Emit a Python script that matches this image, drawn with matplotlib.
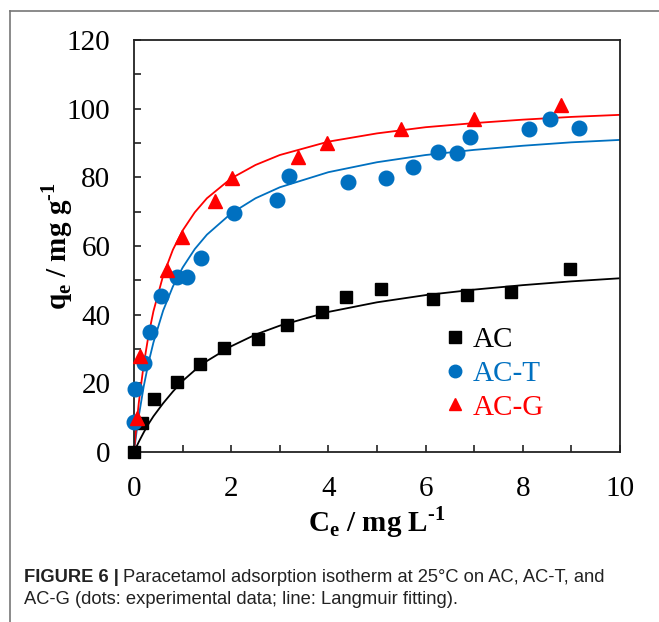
import matplotlib
matplotlib.use('Agg')
import matplotlib.pyplot as plt
from matplotlib.lines import Line2D
from matplotlib.ticker import MultipleLocator

# experimental points
ac_x = [0.0, 0.16, 0.42, 0.88, 1.36, 1.86, 2.56, 3.15, 3.87, 4.36, 5.08, 6.16, 6.86, 7.76, 8.97]
ac_y = [0.0, 8.4, 15.5, 20.4, 25.6, 30.4, 32.8, 37.0, 40.9, 45.2, 47.4, 44.5, 45.7, 46.7, 53.3]

act_x = [0.0, 0.02, 0.21, 0.33, 0.56, 0.89, 1.10, 1.38, 2.06, 2.94, 3.19, 4.40, 5.19,
         5.75, 6.26, 6.64, 6.91, 8.13, 8.56, 9.15]
act_y = [8.8, 18.3, 26.0, 34.9, 45.4, 51.1, 51.1, 56.6, 69.7, 73.4, 80.5, 78.6, 79.7,
         82.9, 87.3, 87.0, 91.7, 94.0, 96.9, 94.5]

acg_x = [0.06, 0.12, 0.67, 0.98, 1.67, 2.01, 3.37, 3.98, 5.49, 7.00, 8.79]
acg_y = [10.0, 28.0, 53.0, 62.7, 73.1, 79.7, 86.0, 89.9, 94.1, 96.9, 101.1]

# Langmuir fitting curves
fit_x = [0, 0.05, 0.1, 0.2, 0.3, 0.4, 0.6, 0.8, 1.0, 1.25, 1.5, 2.0, 2.5, 3.0,
         4.0, 5.0, 6.0, 7.0, 8.0, 9.0, 10.0]
fit_ac = [0, 1.5, 3.0, 5.7, 8.2, 10.4, 14.2, 17.6, 20.7, 23.8, 26.5, 30.8, 34.2, 36.8,
          40.8, 43.6, 45.7, 47.3, 48.6, 49.7, 50.6]
fit_act = [0, 5.6, 10.6, 19.1, 26.1, 31.9, 41.2, 48.2, 53.7, 59.1, 63.3, 69.5, 73.9, 77.1,
           81.5, 84.4, 86.5, 88.0, 89.2, 90.2, 90.9]
fit_acg = [0, 7.8, 14.5, 25.5, 34.1, 41.0, 51.4, 58.9, 64.5, 69.8, 73.9, 79.7, 83.6, 86.5,
           90.4, 92.8, 94.6, 95.8, 96.8, 97.6, 98.2]

labels = ['AC', 'AC-T', 'AC-G']
colors = ['black', '#0070C0', '#FF0000']
markers = ['s', 'o', '^']

serif = ['Liberation Serif', 'DejaVu Serif']
plt.rcParams['font.family'] = serif

fig = plt.figure(figsize=(6.59, 6.22), dpi=100)
ax = fig.add_axes([134 / 659, 170 / 622, 486 / 659, 412 / 622])

#fit lines
for fy, c in zip([fit_ac, fit_act, fit_acg], colors):
    ax.plot(fit_x, fy, color=c, lw=1.3, zorder=2)

#points
ax.plot(ac_x, ac_y, ls='none', marker='s', ms=9, color=colors[0], zorder=3, clip_on=False)
ax.plot(act_x, act_y, ls='none', marker='o', ms=10.5, color=colors[1], zorder=3, clip_on=False)
ax.plot(acg_x, acg_y, ls='none', marker='^', ms=10, color=colors[2], zorder=4, clip_on=False)

ax.set_xlim(0, 10)
ax.set_ylim(0, 120)
ax.xaxis.set_major_locator(MultipleLocator(2))
ax.xaxis.set_minor_locator(MultipleLocator(1))
ax.yaxis.set_major_locator(MultipleLocator(20))
ax.yaxis.set_minor_locator(MultipleLocator(10))
ax.tick_params(which='both', direction='in', length=5, width=1.2, color='#222222',
               top=False, right=False)
ax.tick_params(which='major', labelsize=21, pad=17)
for s in ax.spines.values():
    s.set_linewidth(1.3)
    s.set_color('#222222')

# superscript uses a plain hyphen like the original, not a minus sign
ax.set_xlabel('C$_\\mathregular{e}$ / mg L$^\\mathregular{\u20101}$', fontsize=21,
              fontweight='bold', labelpad=2)
ax.set_ylabel('q$_\\mathregular{e}$ / mg g$^\\mathregular{\u20101}$', fontsize=21,
              fontweight='bold', labelpad=-6)

handles = [Line2D([], [], ls='none', marker=m, color=c, ms=9) for m, c in zip(markers, colors)]
leg = ax.legend(handles, labels, loc='center left', bbox_to_anchor=(0.643, 0.19),
                frameon=False, fontsize=21, handlelength=0.6, handletextpad=0.3,
                labelspacing=0.25, borderpad=0, borderaxespad=0)
for t, c in zip(leg.get_texts(), colors):
    t.set_color(c)

# figure frame
fig.add_artist(Line2D([10 / 659, 1], [1 - 11 / 622] * 2, color='#777777', lw=1.2))
fig.add_artist(Line2D([10 / 659] * 2, [0, 1 - 11 / 622], color='#777777', lw=1.2))

# caption
cap_font = ['Liberation Sans', 'DejaVu Sans']
t1 = fig.text(24 / 659, 1 - 577 / 622, 'FIGURE 6 |', fontsize=13.2, fontweight='bold',
              family=cap_font, va='center', color='#222222')
fig.canvas.draw()
bb = t1.get_window_extent()
fig.text(bb.x1 / 659 + 4 / 659, 1 - 577 / 622,
         'Paracetamol adsorption isotherm at 25\u00b0C on AC, AC-T, and',
         fontsize=13.2, family=cap_font, va='center', color='#222222')
fig.text(24 / 659, 1 - 600 / 622, 'AC-G (dots: experimental data; line: Langmuir fitting).',
         fontsize=13.2, family=cap_font, va='center', color='#222222')

fig.savefig('out.png', dpi=100)
